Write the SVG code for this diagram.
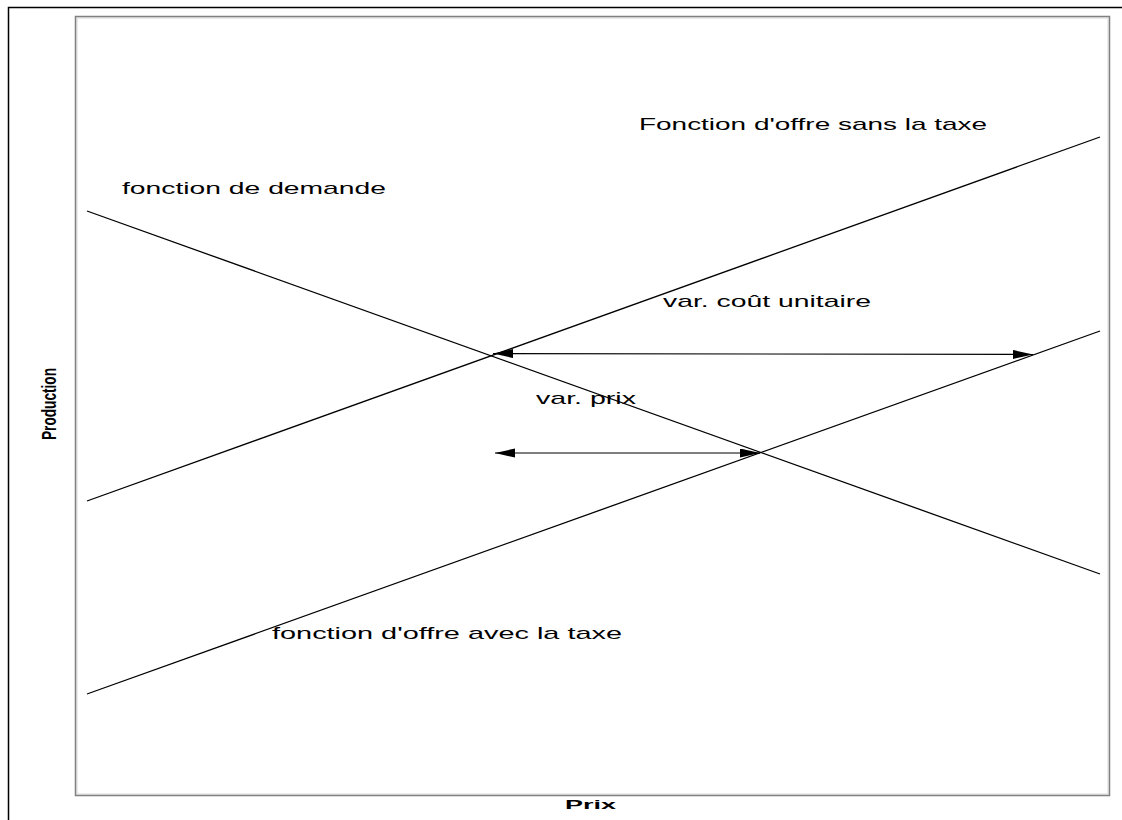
<svg xmlns="http://www.w3.org/2000/svg" width="1122" height="820" viewBox="0 0 1122 820">
<style>
.curve{stroke:#000;stroke-width:1.3;fill:none}
.lbl{font-family:"Liberation Sans",Arial,sans-serif;font-size:17px;fill:#000}
.axis{font-family:"Liberation Sans",Arial,sans-serif;font-weight:bold;fill:#000}
</style>
<defs>
<marker id="ah" markerWidth="21" markerHeight="10" refX="20" refY="4.5" orient="auto-start-reverse" markerUnits="userSpaceOnUse">
<path d="M0,0 L20,4.5 L0,9 Z" fill="#000"/>
</marker>
</defs>
<rect x="0" y="0" width="1122" height="820" fill="#fff"/>
<g id="frame">
<rect x="8.5" y="7.5" width="1130" height="830" fill="none" stroke="#000" stroke-width="1.5"/>
</g>
<g id="plot">
<rect x="77" y="18" width="1031" height="776" fill="none" stroke="#d8d8d8" stroke-width="1"/>
<rect x="75.5" y="16.5" width="1034" height="779" fill="none" stroke="#808080" stroke-width="1.5"/>
</g>
<g id="demande">
<line class="curve" x1="87" y1="211" x2="1100" y2="574"/>
<text class="lbl" x="122" y="194" textLength="264" lengthAdjust="spacingAndGlyphs">fonction de demande</text>
</g>
<g id="offre-sans-taxe">
<line class="curve" x1="87" y1="501" x2="1100" y2="137"/>
<text class="lbl" x="639" y="130" textLength="348" lengthAdjust="spacingAndGlyphs">Fonction d'offre sans la taxe</text>
</g>
<g id="offre-avec-taxe">
<line class="curve" x1="87" y1="694" x2="1100" y2="331"/>
<text class="lbl" x="272" y="639" textLength="350" lengthAdjust="spacingAndGlyphs">fonction d'offre avec la taxe</text>
</g>
<g id="connectors">
<line x1="493" y1="353.5" x2="1033" y2="354.5" stroke="#000" stroke-width="1.2" marker-start="url(#ah)" marker-end="url(#ah)"/>
<line x1="495" y1="453" x2="760" y2="453" stroke="#000" stroke-width="1.2" marker-start="url(#ah)" marker-end="url(#ah)"/>
</g>
<g id="var-cout">
<text class="lbl" x="663" y="307" textLength="208" lengthAdjust="spacingAndGlyphs">var. coût unitaire</text>
</g>
<g id="var-prix">
<text class="lbl" x="536" y="404" textLength="100" lengthAdjust="spacingAndGlyphs">var. prix</text>
</g>
<g id="axes">
<text class="axis" x="565" y="809" font-size="12" textLength="51" lengthAdjust="spacingAndGlyphs">Prix</text>
<text class="axis" x="0" y="0" font-size="20" textLength="72" lengthAdjust="spacingAndGlyphs" transform="translate(56,440) rotate(-90)">Production</text>
</g>
</svg>
